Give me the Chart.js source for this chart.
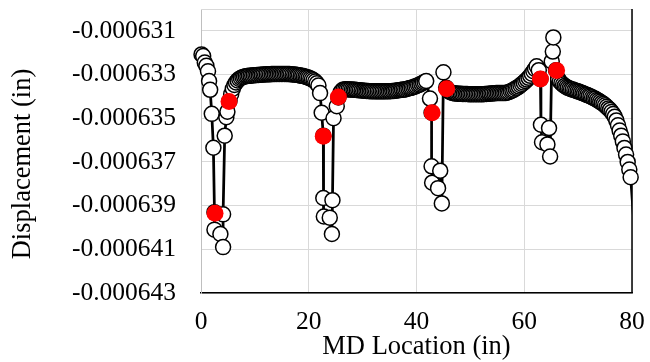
<!DOCTYPE html>
<html>
<head>
<meta charset="utf-8">
<script src="https://cdn.jsdelivr.net/npm/chart.js@4.4.1/dist/chart.umd.min.js"></script>
<style>
  html, body { margin: 0; padding: 0; background: #fff; }
  #wrap { width: 650px; height: 362px; }
</style>
</head>
<body>
<div id="wrap"><canvas id="dispChart" width="650" height="362"></canvas></div>
<script>
// MD location of each node (in)
const mdLocation = [
  0.1, 0.4, 0.7, 1.0, 1.3, 1.5, 1.7, 2.0, 2.3, 2.5, 2.5, 3.6, 4.1, 4.1, 4.4, 4.7, 4.9,
  5.3, 5.6, 5.9, 6.2, 6.5, 6.8, 7.1, 7.4, 7.7, 8.0, 8.3, 8.6, 8.9, 9.2, 9.5, 9.8, 10.1, 10.4, 10.7, 11.0,
  11.3, 11.6, 11.9, 12.2, 12.5, 12.8, 13.1, 13.4, 13.7, 14.0, 14.3, 14.6, 14.9, 15.2, 15.5, 15.8, 16.1, 16.4,
  16.7, 17.0, 17.3, 17.6, 17.9, 18.2, 18.5, 18.8, 19.1, 19.4, 19.7, 20.0, 20.3, 20.6, 20.9, 21.2, 21.5, 21.8,
  22.1, 22.4, 22.7, 22.7, 22.8, 23.9, 24.3, 24.4, 24.6, 25.2, 25.5,
  25.9, 26.2, 26.5, 26.8, 27.1, 27.4, 27.7, 28.0, 28.3, 28.6, 28.9, 29.2, 29.5, 29.8, 30.1, 30.4, 30.7, 31.0,
  31.3, 31.6, 31.9, 32.2, 32.5, 32.8, 33.1, 33.4, 33.7, 34.0, 34.3, 34.6, 34.9, 35.2, 35.5, 35.8, 36.1, 36.4,
  36.7, 37.0, 37.3, 37.6, 37.9, 38.2, 38.5, 38.8, 39.1, 39.4, 39.7, 40.0, 40.3, 40.6, 40.9, 41.2, 41.5, 41.8,
  42.5, 42.8, 42.8, 42.9, 44.0, 44.4, 44.7, 45.0, 45.5,
  45.8, 46.1, 46.4, 46.7, 47.0, 47.3, 47.6, 47.9, 48.2, 48.5, 48.8, 49.1, 49.4, 49.7, 50.0, 50.3, 50.6, 50.9,
  51.2, 51.5, 51.8, 52.1, 52.4, 52.7, 53.0, 53.3, 53.6, 53.9, 54.2, 54.5, 54.8, 55.1, 55.4, 55.7, 56.0, 56.3,
  56.6, 56.9, 57.2, 57.5, 57.8, 58.1, 58.4, 58.7, 59.0, 59.3, 59.6, 59.9, 60.2, 60.5, 60.8, 61.1, 61.4, 61.7,
  62.0, 62.3,
  62.7, 63.0, 63.1, 63.3, 64.3, 64.6, 64.8, 65.1, 65.3, 65.4, 65.9,
  66.3, 66.6, 66.9, 67.2, 67.5, 67.8, 68.1, 68.4, 68.7, 69.0, 69.3, 69.6, 69.9, 70.2, 70.5, 70.8, 71.1, 71.4,
  71.7, 72.0, 72.3, 72.6, 72.9, 73.2, 73.5, 73.8, 74.1, 74.4, 74.7, 75.0, 75.3, 75.6, 75.9, 76.2, 76.5, 76.8,
  77.1, 77.4, 77.7, 78.0, 78.3, 78.6, 78.9, 79.2, 79.5,
  79.75, 80.5
];

// displacement at each node, micro-inches
const dispMicroIn = [
  -632.08, -632.15, -632.45, -632.6, -632.85, -633.3, -633.7, -634.8, -636.35, -639.3, -640.1, -640.3, -640.9, -639.4, -635.8, -634.95, -634.7,
  -634.2, -633.9, -633.65, -633.48, -633.36, -633.27, -633.2, -633.16, -633.12, -633.1, -633.08, -633.07, -633.06, -633.05, -633.04, -633.03, -633.03, -633.02, -633.02, -633.01,
  -633.01, -633.0, -633.0, -632.99, -632.99, -632.99, -632.98, -632.98, -632.98, -632.97, -632.97, -632.97, -632.97, -632.97, -632.97, -632.98, -632.98, -632.98,
  -632.99, -633.0, -633.0, -633.01, -633.02, -633.03, -633.05, -633.06, -633.08, -633.1, -633.12, -633.15, -633.18, -633.22, -633.26, -633.32, -633.4, -633.5,
  -633.85, -634.75, -635.8, -638.65, -639.5, -639.55, -640.3, -638.75, -635.0, -634.45, -634.05,
  -633.82, -633.72, -633.68, -633.67, -633.67, -633.68, -633.68, -633.69, -633.7, -633.7, -633.71, -633.72, -633.72, -633.73, -633.74, -633.74, -633.75, -633.75,
  -633.76, -633.76, -633.76, -633.77, -633.77, -633.77, -633.77, -633.77, -633.77, -633.77, -633.77, -633.76, -633.76, -633.76, -633.75, -633.75, -633.74, -633.73,
  -633.72, -633.71, -633.7, -633.69, -633.68, -633.66, -633.64, -633.62, -633.6, -633.58, -633.55, -633.52, -633.49, -633.46, -633.42, -633.38, -633.34, -633.3,
  -634.1, -634.75, -637.2, -637.95, -638.2, -637.4, -638.9, -632.9, -633.6,
  -633.7, -633.78, -633.82, -633.84, -633.86, -633.87, -633.88, -633.88, -633.88, -633.89, -633.89, -633.89, -633.89, -633.9, -633.9, -633.9, -633.9, -633.9,
  -633.9, -633.9, -633.9, -633.9, -633.9, -633.89, -633.89, -633.88, -633.88, -633.87, -633.86, -633.86, -633.85, -633.85, -633.85, -633.85, -633.85, -633.85,
  -633.84, -633.82, -633.8, -633.76, -633.73, -633.69, -633.64, -633.6, -633.55, -633.49, -633.43, -633.37, -633.3, -633.23, -633.15, -633.06, -632.96, -632.85,
  -632.74, -632.62,
  -632.8, -633.2, -635.3, -636.1, -636.2, -635.45, -636.75, -632.4, -631.95, -631.3, -632.8,
  -633.2, -633.32, -633.4, -633.46, -633.52, -633.57, -633.61, -633.64, -633.67, -633.69, -633.72, -633.74, -633.77, -633.79, -633.82, -633.85, -633.88, -633.91,
  -633.94, -633.97, -634.0, -634.04, -634.08, -634.11, -634.16, -634.2, -634.25, -634.3, -634.35, -634.41, -634.48, -634.55, -634.62, -634.71, -634.81, -634.93,
  -635.1, -635.32, -635.56, -635.8, -636.06, -636.36, -636.66, -637.0, -637.35,
  -637.7, -640.3
];

// highlighted (red) locations
const markX = [2.6, 5.2, 22.7, 25.5, 42.9, 45.6, 63.0, 66.0];
const markMicroIn = [-639.35, -634.23, -635.82, -634.03, -634.75, -633.65, -633.2, -632.82];

const xTicks = [0, 20, 40, 60, 80];
const yTicks = [-0.000643, -0.000641, -0.000639, -0.000637, -0.000635, -0.000633, -0.000631];
const xMin = 0, xMax = 80;
const yMin = -0.000643, yMax = -0.00063;

const serif = 'Liberation Serif, Times New Roman, serif';

const nodes = mdLocation.map((x, i) => ({ x: x, y: dispMicroIn[i] / 1e6 }));
const shownNodes = nodes.filter(p => p.x <= xMax);
const marks = markX.map((x, i) => ({ x: x, y: markMicroIn[i] / 1e6 }));

// top edge in light grey, right edge in black, like the plot frame
const frameLines = {
  id: 'frameLines',
  beforeDatasetsDraw(chart) {
    const { ctx, chartArea: a } = chart;
    ctx.save();
    ctx.strokeStyle = '#d9d9d9';
    ctx.lineWidth = 1;
    ctx.beginPath();
    ctx.moveTo(a.left, a.top + 0.5);
    ctx.lineTo(a.right, a.top + 0.5);
    ctx.stroke();
    ctx.strokeStyle = '#000';
    ctx.lineWidth = 1.5;
    ctx.beginPath();
    ctx.moveTo(a.right, a.top);
    ctx.lineTo(a.right, a.bottom);
    ctx.stroke();
    ctx.restore();
  }
};

// y axis title sits a bit below the middle of the plot, as in the original
const yTitle = {
  id: 'yTitle',
  afterDraw(chart) {
    const { ctx, chartArea: a } = chart;
    ctx.save();
    ctx.translate(23, (a.top + a.bottom) / 2 + 13);
    ctx.rotate(-Math.PI / 2);
    ctx.font = '26.5px ' + serif;
    ctx.fillStyle = '#000';
    ctx.textAlign = 'center';
    ctx.textBaseline = 'middle';
    ctx.fillText('Displacement (in)', 0, 0);
    ctx.restore();
  }
};

new Chart(document.getElementById('dispChart'), {
  type: 'scatter',
  data: {
    datasets: [
      {
        label: 'Displacement line',
        data: nodes,
        showLine: true,
        borderColor: '#000',
        borderWidth: 2.75,
        borderJoinStyle: 'round',
        pointRadius: 0,
        order: 3,
        clip: { left: false, top: false, right: 0, bottom: false }
      },
      {
        label: 'Displacement',
        data: shownNodes,
        showLine: false,
        pointRadius: 7.5,
        pointBorderWidth: 1.5,
        pointBackgroundColor: '#fff',
        pointBorderColor: '#000',
        order: 2,
        clip: false
      },
      {
        label: 'Marked',
        data: marks,
        showLine: false,
        pointRadius: 8.5,
        pointBorderWidth: 0,
        pointBackgroundColor: '#ff0000',
        pointBorderColor: '#ff0000',
        order: 1,
        clip: false
      }
    ]
  },
  options: {
    responsive: false,
    animation: false,
    devicePixelRatio: 1,
    events: [],
    layout: { padding: { top: 7, right: 18, left: 0, bottom: 0 } },
    plugins: { legend: { display: false }, tooltip: { enabled: false } },
    scales: {
      x: {
        type: 'linear',
        min: xMin,
        max: xMax,
        afterBuildTicks: s => { s.ticks = xTicks.map(v => ({ value: v })); },
        afterFit: s => { s.height = 69; s.paddingLeft = 0; s.paddingRight = 0; },
        grid: { color: '#d9d9d9', lineWidth: 1, drawTicks: false },
        border: { color: '#000', width: 1.5 },
        ticks: { padding: 14, color: '#000', maxRotation: 0, font: { family: serif, size: 25.5 } },
        title: {
          display: true, text: 'MD Location (in)', color: '#000',
          font: { family: serif, size: 26.5, lineHeight: 1 },
          padding: { top: 0, bottom: 2 }
        }
      },
      y: {
        type: 'linear',
        min: yMin,
        max: yMax,
        afterBuildTicks: s => { s.ticks = yTicks.map(v => ({ value: v })); },
        afterFit: s => { s.width = 201; s.paddingTop = 0; s.paddingBottom = 0; },
        grid: { color: '#d9d9d9', lineWidth: 1, drawTicks: false },
        border: { color: '#bfbfbf', width: 1 },
        ticks: {
          padding: 25, color: '#000', font: { family: serif, size: 25.5 },
          callback: v => Number(v).toFixed(6)
        },
        title: { display: false }
      }
    }
  },
  plugins: [frameLines, yTitle]
});
</script>
</body>
</html>
